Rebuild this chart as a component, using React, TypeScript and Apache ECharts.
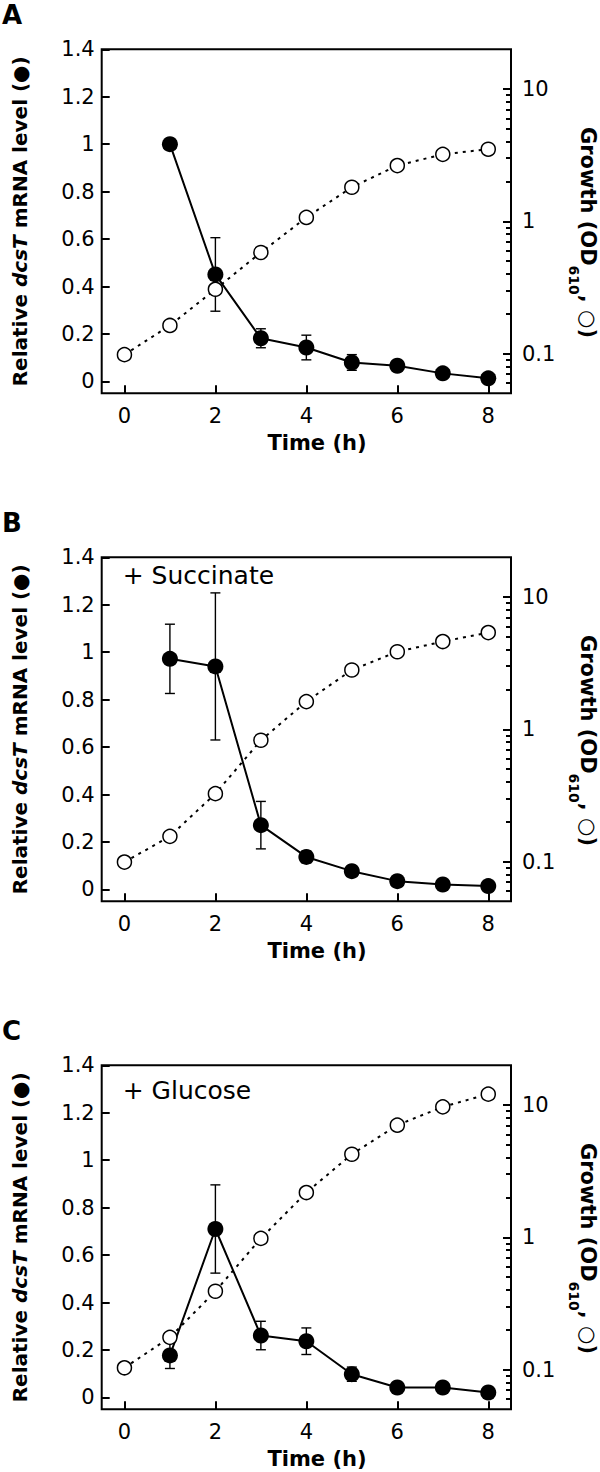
import React, { useEffect, useRef } from "react";
import * as echarts from "echarts";

// ---------- data ----------
const hours = [0, 1, 2, 3, 4, 5, 6, 7, 8];
const mrnaHours = [1, 2, 3, 4, 5, 6, 7, 8];

const panelLetters = ["A", "B", "C"];
const panelNotes = ["", "+ Succinate", "+ Glucose"];

// Relative dcsT mRNA level (filled circles), mean and error (±)
const mrnaA = [1.0, 0.451, 0.182, 0.143, 0.08, 0.066, 0.034, 0.013];
const errA = [0, 0.155, 0.04, 0.052, 0.033, 0, 0, 0];
const mrnaB = [0.972, 0.94, 0.271, 0.137, 0.077, 0.035, 0.021, 0.014];
const errB = [0.146, 0.31, 0.1, 0.025, 0.015, 0, 0, 0];
const mrnaC = [0.177, 0.71, 0.261, 0.237, 0.098, 0.042, 0.042, 0.021];
const errC = [0.055, 0.186, 0.06, 0.056, 0.03, 0, 0, 0];

// Growth OD610 (open circles, log axis)
const odA = [0.098, 0.163, 0.306, 0.581, 1.07, 1.81, 2.64, 3.21, 3.51];
const odB = [0.099, 0.155, 0.326, 0.826, 1.62, 2.81, 3.86, 4.61, 5.39];
const odC = [0.103, 0.175, 0.391, 0.981, 2.18, 4.25, 7.05, 9.7, 12.1];

// ticks
const timeTicks = [0, 2, 4, 6, 8];
const mrnaTicks = [0, 0.2, 0.4, 0.6, 0.8, 1, 1.2, 1.4];
const odMajorTicks = [0.1, 1, 10];
const odMinorTicks = [
  0.06, 0.07, 0.08, 0.09,
  0.2, 0.3, 0.4, 0.5, 0.6, 0.7, 0.8, 0.9,
  2, 3, 4, 5, 6, 7, 8, 9,
];

const mrnaSets = [mrnaA, mrnaB, mrnaC];
const errSets = [errA, errB, errC];
const odSets = [odA, odB, odC];

// ---------- layout ----------
const FONT = "DejaVu Sans";
const STEP = 508;
const G_LEFT = 101.7;
const G_TOP = 49.3;
const G_W = 409.3;
const G_H = 344;

function buildOption() {
  const grids: any[] = [];
  const xAxes: any[] = [];
  const yAxes: any[] = [];
  const series: any[] = [];
  const graphics: any[] = [];

  for (let k = 0; k < 3; k++) {
    const o = k * STEP;
    grids.push({
      left: G_LEFT,
      top: G_TOP + o,
      width: G_W,
      height: G_H,
      show: true,
      borderColor: "#000",
      borderWidth: 2,
      backgroundColor: "transparent",
      containLabel: false,
    });
    xAxes.push({
      gridIndex: k,
      type: "value",
      position: "bottom",
      min: -0.5,
      max: 8.5,
      axisLine: { show: false, onZero: false },
      splitLine: { show: false },
      axisTick: {
        show: true,
        inside: true,
        length: 8,
        lineStyle: { color: "#000", width: 2 },
        customValues: timeTicks,
      },
      axisLabel: {
        customValues: timeTicks,
        color: "#000",
        fontSize: 21,
        fontFamily: FONT,
        margin: 12,
      },
    });
    // left value axis
    yAxes.push({
      gridIndex: k,
      type: "value",
      position: "left",
      min: -0.05,
      max: 1.4,
      axisLine: { show: false, onZero: false },
      splitLine: { show: false },
      axisTick: {
        show: true,
        inside: true,
        length: 8,
        lineStyle: { color: "#000", width: 2 },
        customValues: mrnaTicks,
      },
      axisLabel: {
        customValues: mrnaTicks,
        color: "#000",
        fontSize: 21,
        fontFamily: FONT,
        margin: 7,
      },
    });
    // right log axis (major)
    yAxes.push({
      gridIndex: k,
      type: "log",
      logBase: 10,
      position: "right",
      min: 0.05,
      max: 20,
      axisLine: { show: false, onZero: false },
      splitLine: { show: false },
      axisTick: {
        show: true,
        inside: true,
        length: 8,
        lineStyle: { color: "#000", width: 2 },
        customValues: odMajorTicks,
      },
      axisLabel: {
        customValues: odMajorTicks,
        color: "#000",
        fontSize: 21,
        fontFamily: FONT,
        margin: 11,
      },
    });
    // right log axis (minor ticks)
    yAxes.push({
      gridIndex: k,
      type: "log",
      logBase: 10,
      position: "right",
      min: 0.05,
      max: 20,
      axisLine: { show: false, onZero: false },
      splitLine: { show: false },
      axisTick: {
        show: true,
        inside: true,
        length: 5,
        lineStyle: { color: "#000", width: 2 },
        customValues: odMinorTicks,
      },
      axisLabel: { show: false },
    });

    const mrna = mrnaSets[k];
    const err = errSets[k];
    const od = odSets[k];

    const errData = mrnaHours
      .map((h, i) => [h, mrna[i] - err[i], mrna[i] + err[i], err[i]])
      .filter((d) => d[3] > 0);

    series.push({
      type: "custom",
      xAxisIndex: k,
      yAxisIndex: 3 * k,
      z: 2,
      encode: { x: 0, y: [1, 2] },
      data: errData,
      renderItem: (params: any, api: any) => {
        const x = api.value(0);
        const lo = api.coord([x, api.value(1)]);
        const hi = api.coord([x, api.value(2)]);
        const cap = 5;
        const st = { stroke: "#000", lineWidth: 1.4 };
        return {
          type: "group",
          children: [
            { type: "line", shape: { x1: lo[0], y1: lo[1], x2: hi[0], y2: hi[1] }, style: st },
            { type: "line", shape: { x1: lo[0] - cap, y1: lo[1], x2: lo[0] + cap, y2: lo[1] }, style: st },
            { type: "line", shape: { x1: hi[0] - cap, y1: hi[1], x2: hi[0] + cap, y2: hi[1] }, style: st },
          ],
        };
      },
    });

    series.push({
      type: "line",
      xAxisIndex: k,
      yAxisIndex: 3 * k,
      z: 3,
      data: mrnaHours.map((h, i) => [h, mrna[i]]),
      symbol: "circle",
      symbolSize: 16,
      itemStyle: { color: "#000" },
      lineStyle: { color: "#000", width: 2 },
    });

    series.push({
      type: "line",
      xAxisIndex: k,
      yAxisIndex: 3 * k + 1,
      z: 4,
      data: hours.map((h, i) => [h, od[i]]),
      symbol: "circle",
      symbolSize: 14,
      itemStyle: { color: "#fff", borderColor: "#000", borderWidth: 1.5 },
      lineStyle: { color: "#000", width: 2, type: [3, 5] },
    });

    // panel letter
    graphics.push({
      type: "text",
      x: 2,
      y: 15 + o,
      style: {
        text: panelLetters[k],
        fontFamily: FONT,
        fontWeight: "bold",
        fontSize: 26,
        fill: "#000",
        align: "left",
        verticalAlign: "middle",
      },
    });
    // note
    if (panelNotes[k]) {
      graphics.push({
        type: "text",
        x: 122.7,
        y: (k === 1 ? 67.5 : 74) + o,
        style: {
          text: panelNotes[k],
          fontFamily: FONT,
          fontSize: 25,
          fill: "#000",
          align: "left",
          verticalAlign: "middle",
        },
      });
    }
    // x title
    graphics.push({
      type: "text",
      x: 317,
      y: 442.5 + o,
      style: {
        text: "Time (h)",
        fontFamily: FONT,
        fontWeight: "bold",
        fontSize: 21,
        fill: "#000",
        align: "center",
        verticalAlign: "middle",
      },
    });
    // left title
    graphics.push({
      type: "text",
      x: 20,
      y: 221.3 + o,
      rotation: Math.PI / 2,
      style: {
        text: "{b|Relative }{bi|dcsT}{b| mRNA level (●)}",
        align: "center",
        verticalAlign: "middle",
        rich: {
          b: { fontFamily: FONT, fontWeight: "bold", fontSize: 20, fill: "#000" },
          bi: { fontFamily: FONT, fontWeight: "bold", fontStyle: "italic", fontSize: 20, fill: "#000" },
        },
      },
    });
    // right title
    graphics.push({
      type: "text",
      x: 588,
      y: 232.5 + o,
      rotation: -Math.PI / 2,
      style: {
        text: "{b|Growth (OD}{s|610}{b|, }{r|○}{b|)}",
        align: "center",
        verticalAlign: "middle",
        rich: {
          b: { fontFamily: FONT, fontWeight: "bold", fontSize: 21, lineHeight: 42, fill: "#000" },
          r: { fontFamily: FONT, fontSize: 21, lineHeight: 42, fill: "#000" },
          s: { fontFamily: FONT, fontWeight: "bold", fontSize: 14, lineHeight: 14, verticalAlign: "bottom", fill: "#000" },
        },
      },
    });
  }

  return {
    animation: false,
    backgroundColor: "#fff",
    grid: grids,
    xAxis: xAxes,
    yAxis: yAxes,
    series,
    graphic: graphics,
  };
}

export default function App() {
  const ref = useRef<HTMLDivElement>(null);
  useEffect(() => {
    if (!ref.current) return;
    const chart = echarts.init(ref.current, null, { renderer: "svg" });
    chart.setOption(buildOption() as any);
    return () => chart.dispose();
  }, []);
  return (
    <div
      ref={ref}
      style={{ position: "absolute", left: 0, top: 0, width: 600, height: 1472, background: "#fff" }}
    />
  );
}
